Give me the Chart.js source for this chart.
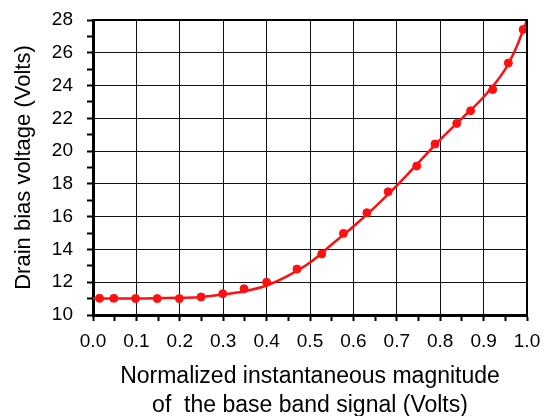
<!DOCTYPE html>
<html lang="en">
<head>
  <meta charset="UTF-8" />
  <title>Drain bias voltage</title>
  <script src="https://cdn.jsdelivr.net/npm/chart.js"></script>
  <style>
    html, body {
      margin: 0;
      padding: 0;
      background: #ffffff;
    }
    #wrap {
      width: 549px;
      height: 416px;
    }
  </style>
</head>
<body>
  <div id="wrap"><canvas id="chart" width="549" height="416"></canvas></div>

  <script>
    // measured points (markers)
    const pointX = [0.015, 0.048, 0.098, 0.148, 0.199, 0.249, 0.299, 0.348, 0.40, 0.47, 0.527,
                    0.577, 0.631, 0.68, 0.746, 0.788, 0.838, 0.870, 0.921, 0.957, 0.991];
    const pointY = [11.02, 11.02, 11.0, 11.0, 11.0, 11.1, 11.3, 11.6, 12.0, 12.8, 13.72,
                    14.98, 16.24, 17.52, 19.09, 20.43, 21.69, 22.46, 23.76, 25.38, 27.42];

    // fitted curve
    const curveX = [0, 0.1, 0.2, 0.25, 0.3, 0.35, 0.4, 0.45, 0.5, 0.55, 0.6, 0.65,
                    0.7, 0.75, 0.8, 0.85, 0.9, 0.95, 0.975, 1.0];
    const curveY = [11.0, 11.0, 11.05, 11.1, 11.25, 11.45, 11.8, 12.4, 13.2, 14.3, 15.4, 16.6,
                    17.9, 19.3, 20.7, 22.0, 23.3, 25.0, 26.3, 28.0];

    const xTitle = ["Normalized instantaneous magnitude", "of  the base band signal (Volts)"];
    const yTitle = "Drain bias voltage (Volts)";

    const RED = "#ff1010";
    const GRID = "#111111";
    const FONT = "'Liberation Sans', Arial, sans-serif";

    // thin frame on top/right
    const frame = {
      id: "frame",
      afterDatasetsDraw(chart) {
        const a = chart.chartArea;
        const c = chart.ctx;
        c.save();
        c.strokeStyle = "#000";
        c.lineWidth = 2;
        c.beginPath();
        c.moveTo(a.left, a.top);
        c.lineTo(a.right, a.top);
        c.lineTo(a.right, a.bottom);
        c.stroke();
        c.restore();
      }
    };

    const ctx = document.getElementById("chart").getContext("2d");
    new Chart(ctx, {
      type: "scatter",
      data: {
        datasets: [
          {
            label: "curve",
            data: curveX.map((x, i) => ({ x: x, y: curveY[i] })),
            showLine: true,
            borderColor: RED,
            borderWidth: 2.5,
            pointRadius: 0,
            cubicInterpolationMode: "monotone",
            clip: 4
          },
          {
            label: "measured",
            data: pointX.map((x, i) => ({ x: x, y: pointY[i] })),
            showLine: false,
            backgroundColor: RED,
            borderColor: RED,
            pointRadius: 4,
            clip: false
          }
        ]
      },
      options: {
        responsive: false,
        animation: false,
        layout: { padding: { left: 0, right: 22, top: 20, bottom: 0 } },
        plugins: {
          legend: { display: false },
          tooltip: { enabled: false }
        },
        scales: {
          x: {
            type: "linear",
            min: 0,
            max: 1,
            afterFit(scale) {
              scale.height = 101;
              scale.paddingLeft = 0;
              scale.paddingRight = 0;
            },
            ticks: {
              stepSize: 0.05,
              autoSkip: false,
              maxRotation: 0,
              padding: 9,
              color: "#000",
              font: { family: FONT, size: 19 },
              callback: (v, i) => (i % 2 === 0 ? v.toFixed(1) : "")
            },
            grid: {
              color: (c) => (c.index % 2 === 0 ? GRID : "rgba(0,0,0,0)"),
              tickColor: "#000",
              tickLength: 6,
              tickWidth: 2,
              lineWidth: 1,
              borderDash: [1, 2],
              tickBorderDash: []
            },
            border: { color: "#000", width: 3 },
            title: {
              display: true,
              text: xTitle,
              color: "#000",
              font: { family: FONT, size: 23, lineHeight: 1.26 },
              padding: { top: 0, bottom: -4.5 }
            }
          },
          y: {
            min: 10,
            max: 28,
            afterFit(scale) {
              scale.width = 93;
              scale.paddingTop = 0;
              scale.paddingBottom = 0;
            },
            ticks: {
              stepSize: 1,
              autoSkip: false,
              padding: 14,
              color: "#000",
              font: { family: FONT, size: 19 },
              callback: (v) => (v % 2 === 0 ? v : "")
            },
            grid: {
              color: (c) => (c.tick && c.tick.value % 2 === 0 ? GRID : "rgba(0,0,0,0)"),
              tickColor: "#000",
              tickLength: 6,
              tickWidth: 2,
              lineWidth: 1,
              borderDash: [1, 2],
              tickBorderDash: []
            },
            border: { color: "#000", width: 3 },
            title: {
              display: true,
              text: yTitle,
              color: "#000",
              font: { family: FONT, size: 22 },
              padding: { top: 11, bottom: 0 }
            }
          }
        }
      },
      plugins: [frame]
    });
  </script>
</body>
</html>
